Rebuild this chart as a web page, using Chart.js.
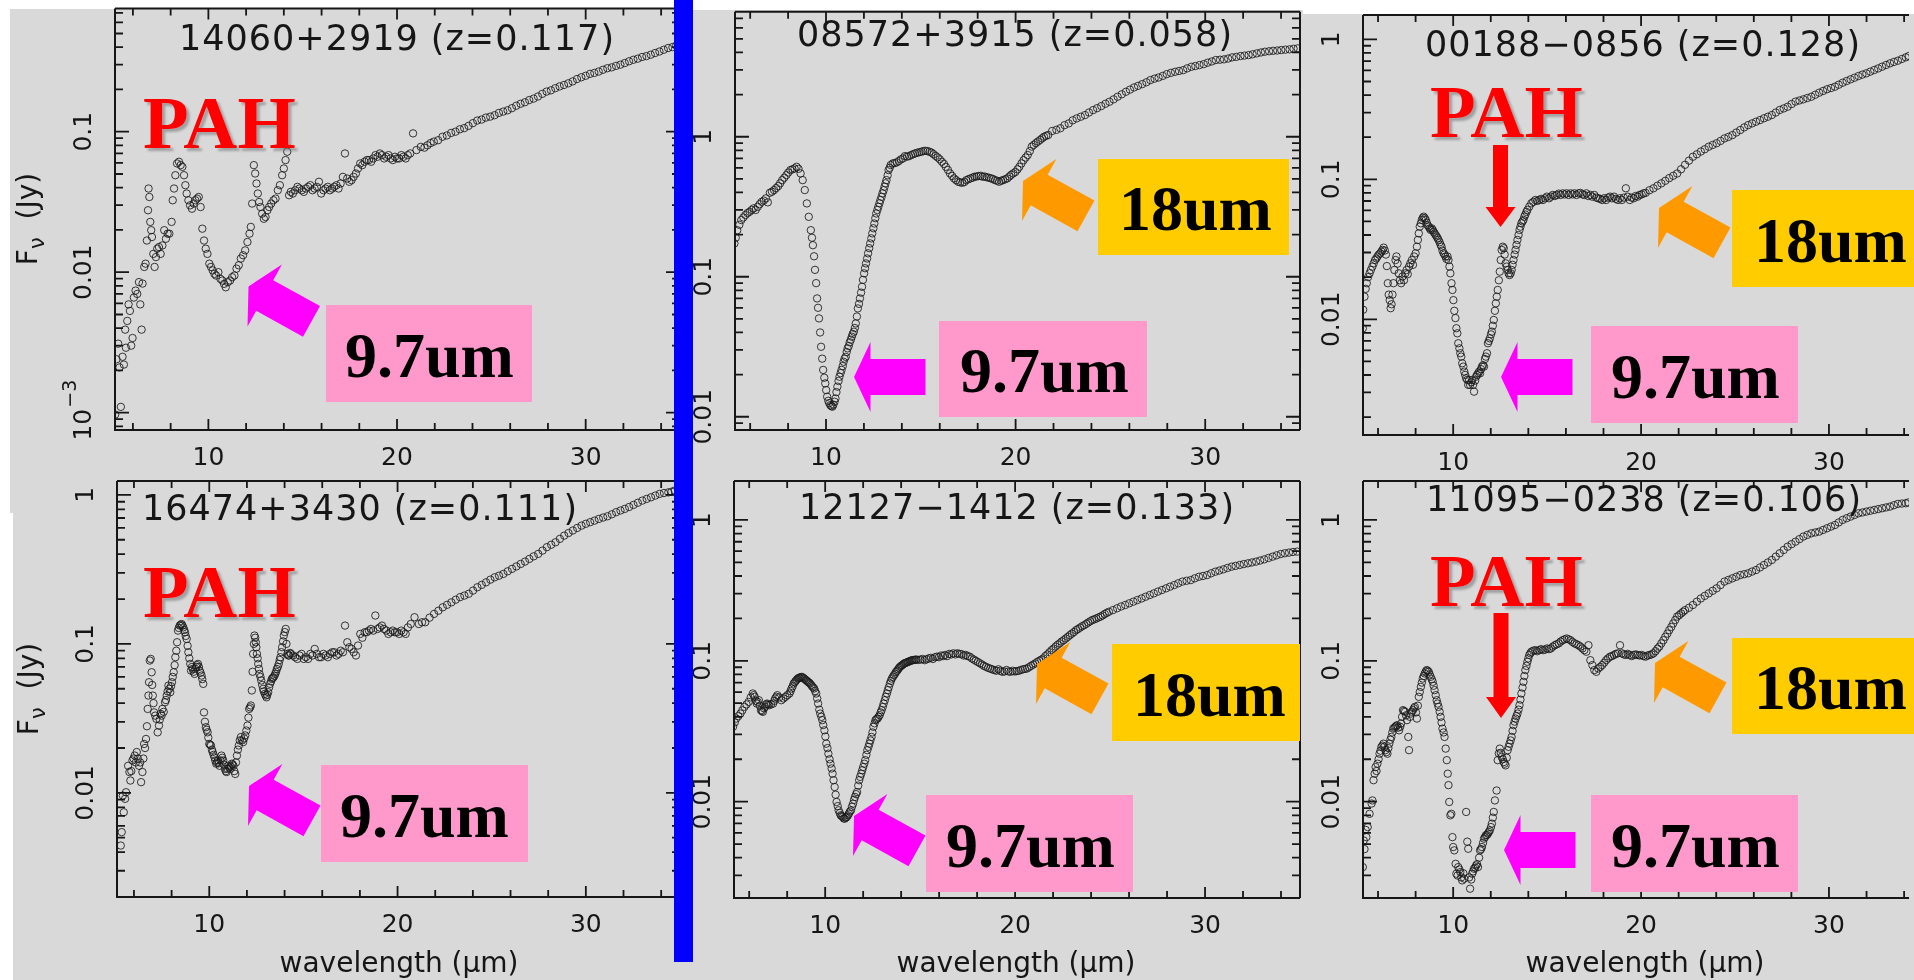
<!DOCTYPE html>
<html>
<head>
<meta charset="utf-8">
<title>IRS spectra of ULIRGs</title>
<script src="https://cdn.jsdelivr.net/npm/chart.js@4.4.1/dist/chart.umd.min.js"></script>
<style>
  html, body { margin: 0; padding: 0; background: #fff; }
  #page { position: relative; width: 1914px; height: 980px; overflow: hidden; background: #fff; }
  .bg { position: absolute; background: #d9d9d9; }
  canvas { position: absolute; left: 0; top: 0; }
  #blueBar { position: absolute; left: 674px; top: 0; width: 19px; height: 962px; background: #0000ff; }
  #notes { position: absolute; left: 0; top: 0; }
</style>
</head>
<body>
<div id="page">
  <div class="bg" style="left:10px; top:9px; width:665px; height:504px"></div>
  <div class="bg" style="left:13px; top:513px; width:662px; height:467px"></div>
  <div class="bg" style="left:675px; top:10px; width:628px; height:970px"></div>
  <div class="bg" style="left:1303px; top:14px; width:611px; height:966px"></div>
  <canvas id="p1" width="1914" height="980"></canvas>
  <canvas id="p2" width="1914" height="980"></canvas>
  <canvas id="p3" width="1914" height="980"></canvas>
  <canvas id="p4" width="1914" height="980"></canvas>
  <canvas id="p5" width="1914" height="980"></canvas>
  <canvas id="p6" width="1914" height="980"></canvas>
  <div id="blueBar"></div>
  <svg id="notes" width="1914" height="980" xmlns="http://www.w3.org/2000/svg">
    <defs>
      <filter id="shadow" x="-10%" y="-10%" width="130%" height="150%">
        <feDropShadow dx="3" dy="3" stdDeviation="0.8" flood-color="#707070" flood-opacity="0.55"/>
      </filter>
    </defs>
  </svg>
</div>
<script>
// tick values (wavelength in um, flux in Jy)
const xTickLabels = [10, 20, 30];
const xMinorTicks = [6, 8, 10, 12, 14, 16, 18, 20, 22, 24, 26, 28, 30, 32, 34];
const yTicksP1 = [0.1, 0.01, 0.001];
const yTicksOther = [1, 0.1, 0.01];

// spectra: [wavelength (um), F_nu (Jy)]
const p1Points = [
  [5.06,.00097],[5.13,.0024],[5.22,.0031],[5.29,.0021],[5.36,.0011],[5.45,.0025],[5.52,.0022],[5.59,.0039],[5.63,.0029],[5.70,.0045],
  [5.77,.0059],[5.84,.0053],[5.91,.0030],[5.98,.0034],[6.05,.0066],[6.14,.0074],[6.23,.0070],[6.32,.0085],[6.39,.0059],[6.46,.0039],
  [6.51,.0083],[6.60,.0109],[6.67,.0115],[6.74,.0168],[6.80,.0276],[6.83,.0394],[6.87,.0343],[6.92,.0228],[6.97,.0199],[7.01,.0178],
  [7.08,.0135],[7.15,.0109],[7.22,.0128],[7.29,.0147],[7.38,.0151],[7.47,.0135],[7.56,.0155],[7.66,.0199],[7.75,.0173],[7.84,.0188],
  [7.93,.0188],[8.05,.0228],[8.11,.0325],[8.18,.0394],[8.25,.0490],[8.34,.0594],[8.44,.0611],[8.53,.0578],[8.62,.0562],[8.71,.0490],
  [8.78,.0416],[8.85,.0363],[8.94,.0325],[9.03,.0299],[9.13,.0283],[9.22,.0308],[9.31,.0325],[9.40,.0334],[9.49,.0343],[9.59,.0291],
  [9.68,.0204],[9.77,.0168],[9.86,.0147],[9.95,.0135],[10.05,.0115],[10.14,.0109],[10.23,.0103],[10.32,.00973],[10.41,.00947],[10.53,.0100],
  [10.64,.00896],[10.74,.00872],[10.83,.00826],[10.92,.00781],[11.03,.00849],[11.15,.00872],[11.26,.00921],[11.38,.00947],[11.49,.0106],[11.61,.0112],
  [11.72,.0125],[11.84,.0132],[11.95,.0143],[12.07,.0164],[12.18,.0188],[12.25,.0210],[12.32,.0308],[12.41,.0578],[12.48,.0504],[12.55,.0428],
  [12.62,.0363],[12.69,.0316],[12.76,.0291],[12.85,.0261],[12.94,.0240],[13.03,.0247],[13.13,.0276],[13.22,.0291],[13.33,.0308],[13.45,.0325],
  [13.56,.0334],[13.68,.0383],[13.79,.0416],[13.91,.0490],[14.00,.0547],[14.09,.0628],[14.18,.0720],[14.28,.0353],[14.37,.0373],[14.48,.0363],
  [14.60,.0383],[14.72,.0405],[14.83,.0394],[14.95,.0383],[15.06,.0373],[15.17,.0394],[15.29,.0405],[15.40,.0416],[15.52,.0383],[15.63,.0394],
  [15.75,.0405],[15.86,.0440],[15.98,.0363],[16.10,.0383],[16.21,.0394],[16.33,.0405],[16.44,.0383],[16.56,.0394],[16.67,.0405],[16.79,.0416],
  [16.90,.0394],[17.01,.0428],[17.13,.0477],[17.24,.0700],[17.36,.0464],[17.47,.0440],[17.59,.0452],[17.70,.0477],[17.82,.0504],[17.93,.0547],
  [18.05,.0594],[18.16,.0578],[18.28,.0611],[18.40,.0628],[18.51,.0628],[18.63,.0611],[18.74,.0645],[18.86,.0681],[18.97,.0663],[19.09,.0700],
  [19.20,.0681],[19.32,.0645],[19.43,.0663],[19.55,.0681],[19.66,.0645],[19.78,.0628],[19.89,.0663],[20.00,.0645],[20.11,.0645],[20.23,.0681],
  [20.34,.0663],[20.46,.0645],[20.57,.0681],[20.70,.0700],[20.85,.0973],[21.03,.074],[21.26,.078],[21.45,.077],[21.61,.080],[21.78,.083],
  [21.95,.085],[22.18,.087],[22.41,.092],[22.64,.094],[22.87,.098],[23.10,.100],[23.33,.104],[23.56,.106],[23.79,.110],[24.02,.115],
  [24.25,.120],[24.48,.122],[24.71,.126],[24.94,.128],[25.17,.131],[25.40,.136],[25.63,.139],[25.86,.142],[26.09,.147],[26.32,.153],
  [26.55,.158],[26.78,.162],[27.01,.168],[27.24,.172],[27.47,.178],[27.70,.186],[27.93,.193],[28.16,.197],[28.39,.204],[28.62,.210],
  [28.85,.215],[29.08,.221],[29.31,.228],[29.54,.237],[29.77,.244],[30.00,.250],[30.23,.258],[30.46,.262],[30.69,.268],[30.92,.276],
  [31.15,.283],[31.38,.287],[31.61,.294],[31.84,.300],[32.07,.308],[32.30,.317],[32.53,.325],[32.76,.331],[32.99,.340],[33.22,.345],
  [33.45,.353],[33.68,.363],[33.91,.372],[34.14,.383],[34.37,.394],[34.60,.400],[34.80,.410]
];

const p2Points = [
  [5.17,.173],[5.24,.19],[5.32,.215],[5.43,.235],[5.53,.254],[5.64,.265],[5.75,.276],[5.86,.285],[5.97,.291],[6.08,.300],
  [6.18,.308],[6.29,.300],[6.40,.316],[6.50,.330],[6.61,.343],[6.72,.350],[6.83,.363],[6.93,.340],[7.04,.398],[7.15,.405],
  [7.26,.416],[7.37,.430],[7.48,.444],[7.58,.465],[7.69,.490],[7.80,.510],[7.91,.532],[8.01,.555],[8.12,.578],[8.23,.585],
  [8.34,.594],[8.45,.610],[8.55,.590],[8.66,.547],[8.77,.490],[8.88,.416],[8.99,.334],[9.09,.268],[9.20,.215],[9.26,.19],
  [9.31,.168],[9.37,.14],[9.42,.112],[9.48,.09],[9.53,.07],[9.58,.06],[9.63,.0504],[9.69,.04],[9.74,.0316],[9.80,.026],
  [9.85,.0216],[9.91,.019],[9.96,.0173],[10.01,.0155],[10.06,.0139],[10.12,.013],[10.17,.0125],[10.23,.0121],[10.28,.0119],[10.34,.0118],
  [10.39,.0122],[10.45,.0128],[10.50,.0135],[10.55,.015],[10.60,.0164],[10.66,.018],[10.71,.0193],[10.77,.0205],[10.82,.0216],[10.88,.023],
  [10.93,.0247],[10.98,.026],[11.04,.0268],[11.09,.029],[11.14,.0308],[11.20,.032],[11.25,.034],[11.31,.0355],[11.36,.0373],[11.41,.039],
  [11.47,.0405],[11.52,.043],[11.57,.0464],[11.63,.052],[11.68,.0594],[11.74,.064],[11.79,.070],[11.85,.077],[11.90,.0848],[11.95,.095],
  [12.01,.1057],[12.06,.115],[12.11,.1245],[12.17,.135],[12.22,.147],[12.28,.16],[12.33,.173],[12.39,.188],[12.44,.204],[12.50,.222],
  [12.55,.240],[12.60,.262],[12.65,.283],[12.71,.30],[12.76,.316],[12.82,.335],[12.87,.353],[12.93,.372],[12.98,.394],[13.04,.415],
  [13.09,.44],[13.14,.465],[13.19,.49],[13.25,.53],[13.30,.578],[13.36,.60],[13.41,.628],[13.52,.645],[13.62,.648],[13.73,.656],
  [13.84,.67],[13.95,.689],[14.06,.70],[14.16,.727],[14.27,.72],[14.38,.727],[14.49,.74],[14.60,.751],[14.70,.76],[14.81,.769],
  [14.92,.775],[15.03,.781],[15.13,.79],[15.24,.794],[15.35,.79],[15.46,.781],[15.57,.77],[15.67,.751],[15.78,.73],[15.89,.712],
  [16.00,.69],[16.11,.663],[16.22,.64],[16.32,.61],[16.43,.58],[16.54,.547],[16.65,.525],[16.75,.504],[16.86,.49],[16.97,.477],
  [17.08,.472],[17.19,.469],[17.30,.475],[17.40,.49],[17.51,.497],[17.62,.504],[17.73,.51],[17.83,.518],[17.94,.52],[18.05,.524],
  [18.16,.526],[18.26,.518],[18.37,.52],[18.48,.513],[18.59,.51],[18.70,.504],[18.80,.50],[18.91,.49],[19.02,.485],[19.13,.477],
  [19.24,.485],[19.34,.49],[19.45,.497],[19.56,.504],[19.67,.52],[19.77,.535],[19.88,.548],[19.99,.56],[20.10,.585],[20.20,.61],
  [20.31,.645],[20.42,.68],[20.53,.71],[20.64,.74],[20.75,.79],[20.85,.85],[20.96,.875],[21.07,.90],[21.18,.925],[21.30,.95],
  [21.40,.975],[21.50,1.0],[21.61,1.015],[21.72,1.03],[21.93,1.10],[22.15,1.12],[22.36,1.15],[22.58,1.21],[22.80,1.245],[23.01,1.31],
  [23.22,1.352],[23.44,1.39],[23.66,1.428],[23.87,1.49],[24.09,1.55],[24.30,1.60],[24.52,1.656],[24.74,1.72],[24.95,1.778],[25.17,1.85],
  [25.38,1.931],[25.60,2.01],[25.82,2.096],[26.03,2.17],[26.25,2.25],[26.46,2.31],[26.68,2.377],[26.90,2.45],[27.11,2.54],[27.33,2.60],
  [27.54,2.65],[27.76,2.72],[27.97,2.80],[28.19,2.86],[28.41,2.91],[28.62,2.95],[28.84,2.99],[29.05,3.08],[29.27,3.16],[29.48,3.20],
  [29.70,3.25],[29.92,3.30],[30.13,3.38],[30.35,3.45],[30.56,3.53],[30.78,3.55],[30.99,3.57],[31.21,3.62],[31.42,3.69],[31.64,3.72],
  [31.86,3.77],[32.07,3.80],[32.29,3.83],[32.50,3.88],[32.72,3.94],[32.94,4.00],[33.15,4.05],[33.37,4.08],[33.58,4.11],[33.80,4.13],
  [34.01,4.16],[34.23,4.19],[34.45,4.21],[34.66,4.25],[34.88,4.28]
];

const p3Points = [
  [5.19,.0086],[5.21,.0117],[5.28,.0145],[5.34,.0165],[5.40,.0181],[5.47,.0200],[5.55,.0213],[5.62,.0225],[5.70,.0238],[5.77,.0251],
  [5.84,.0265],[5.91,.0272],[5.97,.0281],[6.04,.0290],[6.12,.0296],[6.18,.0305],[6.24,.0313],[6.30,.0325],[6.36,.0310],[6.42,.0290],
  [6.47,.0240],[6.52,.0181],[6.57,.0150],[6.62,.0137],[6.67,.0120],[6.72,.0128],[6.77,.0150],[6.82,.0181],[6.87,.0225],[6.93,.0265],
  [6.98,.0281],[7.04,.0250],[7.10,.0213],[7.16,.0190],[7.23,.0181],[7.30,.0202],[7.38,.0190],[7.45,.0213],[7.52,.0225],[7.58,.0210],
  [7.65,.0238],[7.72,.0251],[7.80,.0265],[7.86,.0245],[7.92,.0281],[8.00,.0296],[8.07,.0330],[8.12,.0369],[8.17,.0411],[8.22,.0459],
  [8.28,.0485],[8.33,.0513],[8.38,.0530],[8.43,.0541],[8.49,.0527],[8.54,.0513],[8.59,.0490],[8.64,.0470],[8.70,.0459],[8.75,.0446],
  [8.80,.0435],[8.86,.0446],[8.91,.0435],[8.96,.0422],[9.01,.0411],[9.07,.0400],[9.12,.0390],[9.17,.0380],[9.22,.0369],[9.28,.0355],
  [9.33,.0340],[9.38,.0330],[9.43,.0310],[9.49,.0296],[9.54,.0290],[9.59,.0281],[9.64,.0270],[9.70,.0281],[9.75,.0265],[9.80,.0238],
  [9.85,.0213],[9.91,.0181],[9.96,.0162],[10.01,.0137],[10.06,.0115],[10.12,.0102],[10.17,.00863],[10.22,.00794],[10.27,.00674],[10.33,.00620],
  [10.38,.00572],[10.43,.00541],[10.48,.00485],[10.54,.00459],[10.59,.00423],[10.64,.00400],[10.69,.00379],[10.75,.00369],[10.80,.00340],[10.85,.00369],
  [10.90,.00340],[10.96,.00355],[11.01,.00369],[11.06,.00340],[11.11,.00304],[11.17,.00365],[11.22,.00389],[11.27,.00400],[11.33,.00411],[11.38,.00423],
  [11.43,.00411],[11.48,.00440],[11.53,.00459],[11.59,.00470],[11.64,.00459],[11.69,.00520],[11.74,.00541],[11.80,.00572],[11.85,.00674],[11.90,.00700],
  [11.95,.00731],[12.01,.00780],[12.06,.00816],[12.11,.00900],[12.16,.00989],[12.22,.0115],[12.27,.0130],[12.32,.0145],[12.37,.0162],[12.43,.0190],
  [12.48,.0219],[12.53,.0265],[12.58,.0313],[12.64,.0330],[12.69,.0322],[12.74,.0290],[12.79,.0251],[12.85,.0238],[12.90,.0225],[12.95,.0213],
  [13.00,.0207],[13.06,.0213],[13.11,.0225],[13.16,.0245],[13.21,.0265],[13.27,.0290],[13.32,.0313],[13.37,.0340],[13.42,.0369],[13.48,.0400],
  [13.53,.0435],[13.58,.0459],[13.63,.0485],[13.69,.0500],[13.74,.0513],[13.79,.0541],[13.84,.0560],[13.90,.0585],[13.95,.0604],[14.05,.0638],
  [14.16,.0674],[14.26,.0690],[14.37,.0712],[14.47,.0700],[14.58,.0712],[14.68,.0725],[14.78,.0712],[14.89,.0732],[14.99,.0752],[15.10,.0732],
  [15.20,.0752],[15.30,.0773],[15.41,.0760],[15.51,.0773],[15.62,.0790],[15.72,.0773],[15.83,.0794],[15.93,.0780],[16.04,.0794],[16.14,.0773],
  [16.25,.0794],[16.35,.0780],[16.46,.0794],[16.56,.0773],[16.67,.0794],[16.77,.0800],[16.88,.0780],[16.98,.0773],[17.09,.0794],[17.19,.0760],
  [17.30,.0773],[17.40,.0752],[17.51,.0773],[17.61,.0740],[17.72,.0732],[17.82,.0725],[17.93,.0712],[18.03,.0732],[18.14,.0712],[18.24,.0740],
  [18.35,.0752],[18.45,.0732],[18.56,.0752],[18.66,.0725],[18.77,.0712],[18.87,.0732],[18.98,.0712],[19.08,.0740],[19.19,.0863],[19.29,.0752],
  [19.40,.0712],[19.50,.0740],[19.61,.0732],[19.71,.0760],[19.82,.0752],[19.92,.0773],[20.03,.0780],[20.13,.0794],[20.24,.0800],[20.45,.0836],
  [20.66,.0863],[20.87,.0900],[21.08,.0936],[21.29,.0976],[21.50,.102],[21.71,.106],[21.92,.110],[22.13,.118],[22.34,.127],[22.55,.136],
  [22.76,.145],[22.97,.151],[23.18,.158],[23.39,.164],[23.60,.171],[23.81,.176],[24.02,.181],[24.23,.188],[24.44,.196],[24.65,.201],
  [24.86,.207],[25.07,.216],[25.28,.225],[25.49,.235],[25.70,.244],[25.91,.251],[26.12,.258],[26.33,.265],[26.54,.273],[26.75,.280],
  [26.96,.288],[27.17,.300],[27.38,.313],[27.59,.321],[27.80,.330],[28.01,.345],[28.22,.359],[28.43,.366],[28.64,.373],[28.85,.381],
  [29.06,.389],[29.27,.402],[29.48,.416],[29.69,.428],[29.90,.440],[30.11,.449],[30.32,.459],[30.52,.474],[30.73,.490],[30.94,.504],
  [31.15,.518],[31.36,.532],[31.57,.547],[31.78,.560],[31.99,.572],[32.20,.588],[32.41,.604],[32.62,.620],[32.83,.638],[33.04,.656],
  [33.25,.674],[33.46,.690],[33.67,.704],[33.88,.724],[34.09,.744],[34.25,.760]
];

const p4Points = [
  [5.30,.00443],[5.35,.00545],[5.41,.00959],[5.46,.00741],[5.53,.00912],[5.58,.0101],[5.69,.0152],[5.76,.0138],[5.81,.0121],[5.86,.0140],
  [5.92,.0165],[5.98,.0170],[6.04,.0178],[6.10,.0160],[6.15,.0188],[6.21,.0170],[6.27,.0152],[6.33,.0160],[6.38,.0118],[6.45,.0138],
  [6.50,.0170],[6.54,.0213],[6.59,.0200],[6.64,.0230],[6.69,.0280],[6.73,.0366],[6.77,.0450],[6.80,.0553],[6.84,.0773],[6.89,.0793],
  [6.94,.0645],[6.97,.0530],[7.00,.0450],[7.04,.0400],[7.07,.0347],[7.13,.0330],[7.19,.0314],[7.26,.0255],[7.33,.0283],[7.37,.0310],
  [7.42,.0339],[7.47,.0330],[7.51,.0366],[7.58,.0350],[7.65,.0406],[7.70,.0420],[7.74,.0450],[7.79,.0480],[7.83,.0525],[7.88,.0500],
  [7.93,.0474],[7.97,.0520],[8.02,.0553],[8.06,.0600],[8.11,.0645],[8.16,.0720],[8.20,.0814],[8.25,.0900],[8.29,.1026],[8.34,.1228],
  [8.38,.1280],[8.43,.1327],[8.48,.1340],[8.53,.136],[8.57,.133],[8.62,.129],[8.67,.124],[8.71,.1197],[8.75,.113],[8.80,.108],
  [8.85,.097],[8.89,.0879],[8.94,.080],[8.99,.0734],[9.03,.0662],[9.08,.0700],[9.12,.0679],[9.17,.0650],[9.22,.0629],[9.26,.0680],
  [9.31,.0700],[9.35,.0720],[9.40,.0734],[9.45,.0700],[9.49,.0662],[9.54,.0640],[9.59,.0613],[9.63,.0580],[9.68,.0539],[9.72,.0347],
  [9.77,.0300],[9.82,.0276],[9.86,.0265],[9.91,.0255],[9.95,.0235],[10.00,.0213],[10.05,.0210],[10.09,.0208],[10.14,.0195],[10.18,.0188],
  [10.23,.0180],[10.28,.0173],[10.32,.0165],[10.37,.0157],[10.41,.0160],[10.46,.0165],[10.51,.0158],[10.55,.0152],[10.60,.0165],[10.65,.0178],
  [10.69,.0172],[10.74,.0165],[10.78,.0155],[10.83,.0145],[10.88,.0140],[10.92,.0138],[10.97,.0145],[11.01,.0152],[11.06,.0148],[11.11,.0145],
  [11.15,.0150],[11.20,.0157],[11.24,.0155],[11.29,.0152],[11.33,.0140],[11.38,.0134],[11.42,.0160],[11.47,.0178],[11.52,.0195],[11.57,.0208],
  [11.62,.0225],[11.68,.0237],[11.74,.0225],[11.80,.0219],[11.85,.0232],[11.91,.0243],[11.97,.0262],[12.03,.0283],[12.08,.0320],[12.12,.0366],
  [12.17,.0375],[12.21,.0386],[12.26,.0487],[12.30,.0650],[12.33,.0857],[12.37,.100],[12.40,.1138],[12.44,.110],[12.47,.1026],[12.50,.095],
  [12.53,.0857],[12.57,.080],[12.60,.0734],[12.64,.068],[12.67,.0629],[12.72,.060],[12.76,.0568],[12.81,.053],[12.86,.0499],[12.90,.048],
  [12.95,.0462],[13.00,.045],[13.04,.0438],[13.08,.0455],[13.13,.0474],[13.18,.051],[13.23,.0539],[13.28,.056],[13.32,.0582],[13.37,.059],
  [13.41,.0597],[13.46,.061],[13.50,.0629],[13.55,.065],[13.59,.0679],[13.64,.070],[13.69,.0734],[13.74,.078],[13.78,.0814],[13.83,.088],
  [13.87,.0950],[13.92,.104],[13.96,.1138],[14.01,.120],[14.06,.126],[14.10,.100],[14.15,.0857],[14.20,.0836],[14.24,.0836],[14.29,.0870],
  [14.33,.0857],[14.45,.0836],[14.56,.0814],[14.68,.0793],[14.79,.0836],[14.90,.0857],[15.02,.0793],[15.13,.0814],[15.25,.0793],[15.37,.0857],
  [15.48,.0836],[15.60,.0925],[15.71,.0857],[15.83,.0814],[15.94,.0814],[16.06,.0857],[16.18,.0836],[16.30,.0814],[16.41,.0857],[16.53,.0879],
  [16.64,.0879],[16.76,.0836],[16.87,.0857],[16.98,.0900],[17.10,.0879],[17.21,.1327],[17.33,.1026],[17.44,.0950],[17.56,.0925],[17.67,.0879],
  [17.79,.0836],[17.90,.0975],[18.02,.1167],[18.13,.110],[18.25,.1197],[18.36,.1197],[18.48,.1228],[18.59,.126],[18.71,.1228],[18.82,.155],
  [18.94,.126],[19.05,.129],[19.17,.1327],[19.28,.126],[19.40,.1228],[19.51,.1167],[19.63,.1197],[19.74,.1228],[19.86,.1197],[19.97,.1197],
  [20.09,.1167],[20.20,.1228],[20.32,.1197],[20.43,.1167],[20.55,.129],[20.70,.136],[20.90,.151],[21.13,.136],[21.30,.1397],[21.47,.1397],
  [21.70,.150],[21.94,.159],[22.17,.167],[22.40,.176],[22.63,.183],[22.86,.190],[23.09,.198],[23.32,.206],[23.55,.211],[23.78,.217],
  [24.01,.228],[24.24,.240],[24.47,.249],[24.70,.259],[24.93,.270],[25.16,.280],[25.39,.287],[25.62,.295],[25.85,.307],[26.08,.319],
  [26.31,.331],[26.54,.344],[26.77,.357],[27.00,.372],[27.23,.387],[27.47,.402],[27.70,.423],[27.93,.446],[28.16,.463],[28.39,.481],
  [28.62,.507],[28.85,.533],[29.08,.555],[29.31,.577],[29.54,.600],[29.77,.622],[30.00,.640],[30.23,.656],[30.46,.672],[30.69,.690],
  [30.92,.705],[31.15,.719],[31.38,.741],[31.61,.766],[31.84,.786],[32.07,.806],[32.30,.830],[32.53,.857],[32.76,.886],[33.00,.916],
  [33.23,.940],[33.46,.964],[33.69,.990],[33.92,1.016],[34.15,1.03],[34.38,1.04],[34.55,1.05],[34.72,1.07]
];

const p5Points = [
  [5.15,.0340],[5.24,.0365],[5.32,.0389],[5.43,.0405],[5.54,.0422],[5.64,.0445],[5.75,.0471],[5.86,.0490],[5.97,.0511],[6.08,.0550],
  [6.19,.0586],[6.24,.0570],[6.29,.0555],[6.35,.0520],[6.40,.0497],[6.45,.0510],[6.51,.0525],[6.56,.0480],[6.62,.0446],[6.67,.0440],
  [6.72,.0434],[6.78,.0460],[6.83,.0471],[6.89,.0490],[6.94,.0497],[7.00,.0490],[7.05,.0484],[7.15,.0490],[7.26,.0497],[7.32,.0520],
  [7.37,.0540],[7.43,.0555],[7.48,.0570],[7.58,.0550],[7.69,.0525],[7.80,.0540],[7.91,.0555],[8.01,.0570],[8.12,.0586],[8.18,.0610],
  [8.23,.0636],[8.29,.0660],[8.34,.0690],[8.40,.0705],[8.45,.0720],[8.51,.0735],[8.56,.0748],[8.61,.0755],[8.66,.0760],[8.72,.0765],
  [8.77,.0769],[8.83,.0760],[8.88,.0750],[8.93,.0740],[8.99,.0729],[9.04,.0720],[9.09,.0710],[9.15,.0700],[9.20,.0690],[9.26,.0675],
  [9.31,.0660],[9.36,.0648],[9.42,.0636],[9.47,.0610],[9.53,.0586],[9.58,.0540],[9.63,.0497],[9.69,.0450],[9.74,.0422],[9.80,.0400],
  [9.85,.0379],[9.90,.0350],[9.96,.0321],[10.01,.0290],[10.06,.0258],[10.12,.0240],[10.17,.0219],[10.23,.0200],[10.28,.0186],[10.34,.0172],
  [10.39,.0158],[10.44,.0142],[10.50,.0127],[10.55,.0112],[10.60,.00995],[10.66,.00930],[10.71,.00868],[10.77,.00830],[10.82,.00800],[10.87,.00790],
  [10.93,.00778],[10.98,.00760],[11.03,.00757],[11.09,.00770],[11.14,.00778],[11.20,.00800],[11.25,.00822],[11.30,.00850],[11.36,.00868],[11.41,.00920],
  [11.47,.00968],[11.52,.0103],[11.57,.0108],[11.63,.0113],[11.68,.0117],[11.74,.0130],[11.79,.0142],[11.84,.0150],[11.90,.0158],[11.95,.0167],
  [12.00,.0176],[12.06,.0186],[12.11,.0197],[12.17,.0215],[12.22,.0232],[12.28,.0245],[12.33,.0258],[12.38,.0272],[12.44,.0288],[12.49,.0310],
  [12.54,.0340],[12.60,.0360],[12.65,.0379],[12.70,.0385],[12.76,.0389],[12.81,.0400],[12.87,.0411],[12.92,.0430],[12.97,.0446],[13.03,.0470],
  [13.08,.0497],[13.14,.0525],[13.19,.0555],[13.25,.0586],[13.30,.0619],[13.35,.0650],[13.41,.0690],[13.46,.0720],[13.51,.0748],[13.57,.0770],
  [13.62,.0790],[13.68,.0810],[13.73,.0835],[13.79,.0850],[13.84,.0870],[13.89,.0890],[13.94,.0906],[14.00,.0920],[14.05,.0930],[14.11,.0945],
  [14.16,.0957],[14.22,.0965],[14.27,.0970],[14.33,.0978],[14.38,.0984],[14.44,.0992],[14.49,.100],[14.54,.1005],[14.59,.101],[14.65,.1012],
  [14.70,.1015],[14.76,.1018],[14.81,.102],[14.92,.1015],[15.02,.102],[15.13,.103],[15.24,.101],[15.35,.1025],[15.45,.104],[15.56,.105],
  [15.67,.103],[15.78,.106],[15.88,.107],[15.99,.106],[16.10,.109],[16.21,.108],[16.31,.110],[16.42,.108],[16.53,.112],[16.64,.111],
  [16.75,.113],[16.86,.111],[16.96,.113],[17.07,.112],[17.18,.1115],[17.29,.109],[17.40,.110],[17.50,.108],[17.61,.107],[17.72,.104],
  [17.83,.102],[17.93,.100],[18.04,.098],[18.15,.096],[18.26,.094],[18.36,.092],[18.47,.0906],[18.58,.089],[18.69,.088],[18.79,.087],
  [18.90,.0859],[19.01,.085],[19.12,.087],[19.22,.085],[19.33,.0835],[19.44,.084],[19.55,.086],[19.65,.084],[19.76,.0835],[19.87,.085],
  [19.98,.084],[20.08,.0845],[20.19,.0849],[20.30,.086],[20.41,.087],[20.52,.0875],[20.63,.0882],[20.73,.090],[20.84,.092],[20.95,.094],
  [21.06,.0957],[21.16,.098],[21.27,.100],[21.38,.102],[21.49,.104],[21.59,.108],[21.70,.111],[21.81,.115],[21.92,.119],[22.02,.122],
  [22.13,.126],[22.24,.130],[22.35,.133],[22.45,.137],[22.56,.140],[22.67,.144],[22.78,.148],[22.88,.152],[22.99,.156],[23.10,.160],
  [23.21,.165],[23.31,.168],[23.42,.172],[23.53,.176],[23.64,.179],[23.75,.183],[23.85,.187],[23.96,.191],[24.07,.195],[24.18,.197],
  [24.28,.200],[24.39,.203],[24.50,.206],[24.61,.210],[24.72,.215],[24.83,.219],[24.94,.223],[25.15,.229],[25.37,.236],[25.58,.243],
  [25.80,.249],[26.01,.256],[26.23,.263],[26.44,.270],[26.66,.277],[26.87,.285],[27.09,.293],[27.30,.301],[27.52,.310],[27.73,.318],
  [27.95,.327],[28.16,.336],[28.38,.345],[28.59,.355],[28.81,.365],[29.03,.370],[29.25,.374],[29.46,.385],[29.68,.395],[29.89,.400],
  [30.11,.406],[30.32,.418],[30.54,.429],[30.75,.437],[30.97,.446],[31.18,.456],[31.40,.466],[31.61,.472],[31.83,.479],[32.04,.486],
  [32.26,.492],[32.47,.499],[32.69,.506],[32.90,.515],[33.12,.525],[33.34,.537],[33.56,.549],[33.77,.561],[33.99,.573],[34.20,.580],
  [34.42,.586],[34.63,.592],[34.85,.596]
];

const p6Points = [
  [5.19,.00343],[5.24,.0053],[5.28,.0046],[5.34,.0063],[5.38,.0056],[5.45,.0066],[5.55,.0082],[5.66,.0097],[5.70,.0102],[5.76,.0142],
  [5.82,.0158],[5.87,.0176],[5.92,.0165],[5.97,.0186],[6.03,.0200],[6.08,.0219],[6.13,.0230],[6.18,.0245],[6.24,.0250],[6.29,.0258],
  [6.34,.0245],[6.39,.0232],[6.45,.0225],[6.50,.0219],[6.55,.0240],[6.60,.0258],[6.66,.0275],[6.71,.0288],[6.76,.0310],[6.81,.033],
  [6.87,.0335],[6.92,.034],[6.97,.0345],[7.02,.0349],[7.07,.0335],[7.12,.0321],[7.18,.0340],[7.23,.0359],[7.28,.0400],[7.33,.0446],
  [7.38,.0440],[7.44,.0434],[7.49,.0410],[7.54,.0379],[7.61,.0288],[7.65,.0232],[7.70,.0400],[7.75,.0422],[7.80,.0435],[7.86,.0446],
  [7.91,.0460],[7.96,.0471],[8.02,.0430],[8.07,.0389],[8.12,.0480],[8.17,.0555],[8.22,.0600],[8.28,.0653],[8.33,.0700],[8.38,.0748],
  [8.43,.0780],[8.49,.0813],[8.54,.0840],[8.59,.0859],[8.64,.0850],[8.70,.0835],[8.75,.0800],[8.80,.0769],[8.86,.0740],[8.91,.0709],
  [8.96,.0665],[9.01,.0619],[9.07,.0570],[9.12,.0525],[9.17,.0497],[9.22,.0471],[9.28,.0435],[9.33,.0400],[9.38,.0365],[9.43,.033],
  [9.49,.0310],[9.54,.0288],[9.60,.0238],[9.66,.0197],[9.71,.0158],[9.75,.0131],[9.79,.00995],[9.85,.0080],[9.90,.0082],[9.96,.0056],
  [10.00,.00476],[10.06,.00451],[10.13,.00362],[10.17,.00308],[10.23,.00299],[10.27,.00343],[10.33,.0033],[10.38,.00316],[10.43,.0029],[10.48,.00276],
  [10.54,.0031],[10.59,.00284],[10.69,.00845],[10.75,.0052],[10.80,.00463],[10.85,.0029],[10.90,.00241],[10.96,.0028],[11.01,.00308],[11.06,.0032],
  [11.11,.00334],[11.17,.0034],[11.22,.00352],[11.27,.0036],[11.32,.00343],[11.38,.0040],[11.43,.00451],[11.48,.0046],[11.53,.00476],[11.59,.0051],
  [11.64,.00546],[11.69,.0056],[11.74,.00577],[11.80,.0058],[11.85,.00593],[11.90,.0061],[11.95,.00625],[12.01,.0066],[12.06,.00698],[12.11,.0077],
  [12.16,.00845],[12.22,.0102],[12.31,.0120],[12.37,.0197],[12.43,.0220],[12.48,.0238],[12.53,.0222],[12.58,.0208],[12.64,.0200],[12.69,.0191],
  [12.74,.0186],[12.79,.0181],[12.85,.0205],[12.90,.0232],[12.95,.0245],[13.00,.0258],[13.06,.0272],[13.11,.0288],[13.16,.0318],[13.21,.0349],
  [13.27,.0370],[13.32,.0389],[13.37,.0405],[13.42,.0422],[13.48,.0450],[13.53,.0484],[13.58,.0530],[13.63,.0586],[13.69,.0645],[13.74,.0709],
  [13.79,.0780],[13.84,.0859],[13.90,.0920],[13.95,.0984],[14.00,.104],[14.05,.110],[14.11,.113],[14.16,.116],[14.26,.118],[14.37,.119],
  [14.47,.117],[14.58,.119],[14.68,.121],[14.78,.119],[14.89,.120],[14.99,.1224],[15.10,.121],[15.20,.1224],[15.30,.126],[15.41,.129],
  [15.51,.131],[15.62,.133],[15.72,.137],[15.83,.140],[15.93,.142],[16.04,.144],[16.14,.142],[16.25,.140],[16.35,.136],[16.46,.133],
  [16.56,.131],[16.67,.129],[16.77,.126],[16.88,.1224],[16.98,.119],[17.09,.116],[17.20,.129],[17.30,.101],[17.41,.0932],[17.51,.0859],
  [17.62,.0835],[17.72,.0882],[17.83,.0905],[17.93,.0932],[18.04,.097],[18.14,.101],[18.24,.104],[18.35,.107],[18.45,.108],[18.56,.110],
  [18.66,.112],[18.77,.113],[18.88,.129],[18.98,.113],[19.08,.111],[19.19,.110],[19.29,.112],[19.40,.110],[19.50,.108],[19.61,.110],
  [19.71,.111],[19.82,.110],[19.92,.109],[20.03,.110],[20.13,.108],[20.24,.107],[20.35,.109],[20.45,.110],[20.56,.111],[20.66,.113],
  [20.77,.117],[20.87,.122],[20.97,.126],[21.08,.133],[21.19,.140],[21.29,.148],[21.40,.156],[21.50,.165],[21.61,.174],[21.71,.184],
  [21.82,.195],[21.92,.206],[22.03,.211],[22.13,.217],[22.24,.223],[22.34,.229],[22.55,.238],[22.76,.249],[22.97,.263],[23.18,.277],
  [23.39,.289],[23.60,.301],[23.81,.314],[24.02,.327],[24.23,.345],[24.44,.365],[24.65,.375],[24.86,.385],[25.07,.395],[25.28,.406],
  [25.49,.412],[25.70,.418],[25.91,.430],[26.12,.441],[26.33,.460],[26.54,.479],[26.75,.499],[26.96,.520],[27.17,.549],[27.38,.580],
  [27.59,.612],[27.80,.646],[28.01,.673],[28.22,.701],[28.43,.731],[28.64,.762],[28.85,.783],[29.06,.804],[29.27,.815],[29.48,.826],
  [29.69,.849],[29.90,.873],[30.11,.897],[30.32,.921],[30.52,.960],[30.73,1.0],[30.94,1.028],[31.15,1.056],[31.36,1.085],[31.57,1.115],
  [31.78,1.130],[31.99,1.146],[32.20,1.162],[32.41,1.178],[32.62,1.194],[32.83,1.21],[33.04,1.227],[33.25,1.244],[33.46,1.272],[33.67,1.30],
  [33.88,1.307],[34.09,1.314],[34.22,1.33]
];

// panel layout on the page
const panelLayout = [
  { canvas: 'p1', points: p1Points, box: { left: 115, right: 680, top: 8.5, bottom: 430 }, x: [5.05, 35], y: [7.53e-4, 0.753],
    rightAxis: true, yTicks: yTicksP1, title: '14060+2919 (z=0.117)', titleAt: [397, 41], fnu: [30, 219] },
  { canvas: 'p2', points: p2Points, box: { left: 735, right: 1300, top: 11.7, bottom: 430 }, x: [5.2, 35], y: [8.04e-3, 7.82],
    rightAxis: true, yTicks: yTicksOther, title: '08572+3915 (z=0.058)', titleAt: [1015, 37] },
  { canvas: 'p3', points: p3Points, box: { left: 1363, right: 1914, top: 15, bottom: 435 }, x: [5.2, 34.26], y: [1.49e-3, 1.493],
    rightAxis: false, yTicks: yTicksOther, title: '00188\u22120856 (z=0.128)', titleAt: [1643, 47] },
  { canvas: 'p4', points: p4Points, box: { left: 117, right: 680, top: 481, bottom: 897 }, x: [5.1, 35], y: [2.0e-3, 1.24],
    rightAxis: true, yTicks: yTicksOther, title: '16474+3430 (z=0.111)', titleAt: [360, 511], fnu: [31, 689], xLabelAt: [399, 965] },
  { canvas: 'p5', points: p5Points, box: { left: 734, right: 1300, top: 481, bottom: 898 }, x: [5.2, 35], y: [2.07e-3, 1.89],
    rightAxis: true, yTicks: yTicksOther, title: '12127\u22121412 (z=0.133)', titleAt: [1017, 510], xLabelAt: [1016, 965] },
  { canvas: 'p6', points: p6Points, box: { left: 1363, right: 1914, top: 481, bottom: 898 }, x: [5.2, 34.26], y: [2.07e-3, 1.89],
    rightAxis: false, yTicks: yTicksOther, title: '11095\u22120238 (z=0.106)', titleAt: [1644, 502], xLabelAt: [1645, 965] }
];

const ink = '#161616';
const sans = '"DejaVu Sans", "Liberation Sans", sans-serif';

function rotatedText(ctx, txt, cx, cy, font) {
  ctx.save();
  ctx.translate(cx, cy);
  ctx.rotate(-Math.PI / 2);
  ctx.font = font;
  ctx.textAlign = 'center';
  ctx.textBaseline = 'middle';
  ctx.fillText(txt, 0, 0);
  ctx.restore();
}

// PGPLOT-like box: inward ticks on every side, rotated y labels
function makeFrame(p) {
  return {
    id: 'frame',
    afterDatasetsDraw(chart) {
      const ctx = chart.ctx, a = chart.chartArea;
      const xs = chart.scales.x, ys = chart.scales.y;
      ctx.save();
      ctx.strokeStyle = ink;
      ctx.fillStyle = ink;
      ctx.lineWidth = 2;
      ctx.beginPath();
      ctx.moveTo(a.left, a.top); ctx.lineTo(a.left, a.bottom); ctx.lineTo(a.right, a.bottom);
      ctx.moveTo(a.left, a.top); ctx.lineTo(a.right, a.top);
      if (p.rightAxis) { ctx.moveTo(a.right, a.top); ctx.lineTo(a.right, a.bottom); }
      ctx.stroke();

      ctx.lineWidth = 1.8;
      ctx.beginPath();
      xMinorTicks.forEach(v => {
        const px = xs.getPixelForValue(v);
        if (px <= a.left + 1 || px >= a.right - 1) return;
        const len = xTickLabels.includes(v) ? 11 : 7;
        ctx.moveTo(px, a.bottom); ctx.lineTo(px, a.bottom - len);
        ctx.moveTo(px, a.top); ctx.lineTo(px, a.top + len);
      });
      for (let e = -4; e <= 1; e++) {
        for (let k = 1; k <= 9; k++) {
          const v = k * Math.pow(10, e);
          if (v < ys.min || v > ys.max) continue;
          const py = ys.getPixelForValue(v);
          const len = k === 1 ? 14 : 8;
          ctx.moveTo(a.left, py); ctx.lineTo(a.left + len, py);
          if (p.rightAxis) { ctx.moveTo(a.right, py); ctx.lineTo(a.right - len, py); }
        }
      }
      ctx.stroke();

      // tick labels
      ctx.font = '25px ' + sans;
      ctx.textAlign = 'center';
      ctx.textBaseline = 'middle';
      xTickLabels.forEach(v => {
        ctx.fillText(String(v), xs.getPixelForValue(v), a.bottom + 28);
      });
      p.yTicks.forEach(v => {
        const py = ys.getPixelForValue(v);
        const cx = a.left - 31;
        if (v >= 0.01) {
          rotatedText(ctx, String(v), cx, py, '25px ' + sans);
        } else {
          ctx.save();
          ctx.translate(cx, py);
          ctx.rotate(-Math.PI / 2);
          ctx.textAlign = 'left';
          ctx.textBaseline = 'middle';
          ctx.font = '25px ' + sans;
          const w1 = ctx.measureText('10').width;
          ctx.font = '19px ' + sans;
          const w2 = ctx.measureText('\u22123').width;
          const x0 = -(w1 + w2) / 2 + 2;
          ctx.font = '25px ' + sans;
          ctx.fillText('10', x0, 0);
          ctx.font = '19px ' + sans;
          ctx.fillText('\u22123', x0 + w1 + 1, -13);
          ctx.restore();
        }
      });

      // title
      ctx.save();
      ctx.font = '35px ' + sans;
      ctx.letterSpacing = '1px';
      ctx.textAlign = 'center';
      ctx.textBaseline = 'middle';
      ctx.fillText(p.title, p.titleAt[0], p.titleAt[1]);
      ctx.restore();

      // F_nu (Jy)
      if (p.fnu) {
        ctx.save();
        ctx.translate(p.fnu[0], p.fnu[1]);
        ctx.rotate(-Math.PI / 2);
        ctx.textAlign = 'left';
        ctx.textBaseline = 'middle';
        ctx.font = '28px ' + sans;
        const wF = ctx.measureText('F').width;
        const wJ = ctx.measureText('  (Jy)').width;
        ctx.font = '21px ' + sans;
        const wn = ctx.measureText('\u03bd').width;
        let x0 = -(wF + wn + wJ) / 2;
        ctx.font = '28px ' + sans;
        ctx.fillText('F', x0, 0);
        ctx.font = '21px ' + sans;
        ctx.fillText('\u03bd', x0 + wF, 9);
        ctx.font = '28px ' + sans;
        ctx.fillText('  (Jy)', x0 + wF + wn, 0);
        ctx.restore();
      }

      // wavelength label on the lower row
      if (p.xLabelAt) {
        ctx.font = '28px ' + sans;
        ctx.textAlign = 'center';
        ctx.textBaseline = 'middle';
        ctx.fillText('wavelength (\u03bcm)', p.xLabelAt[0], p.xLabelAt[1]);
      }
      ctx.restore();
    }
  };
}

panelLayout.forEach(p => {
  new Chart(document.getElementById(p.canvas), {
    type: 'scatter',
    data: {
      datasets: [{
        data: p.points.map(d => ({ x: d[0], y: d[1] })),
        pointStyle: 'circle',
        pointRadius: 3.7,
        borderWidth: 1,
        borderColor: 'rgba(25,25,25,0.85)',
        backgroundColor: 'rgba(0,0,0,0)'
      }]
    },
    options: {
      responsive: false,
      animation: false,
      devicePixelRatio: 1,
      events: [],
      layout: {
        padding: { left: p.box.left, right: 1914 - p.box.right, top: p.box.top, bottom: 980 - p.box.bottom }
      },
      plugins: { legend: { display: false }, tooltip: { enabled: false } },
      scales: {
        x: { type: 'linear', min: p.x[0], max: p.x[1], display: false },
        y: { type: 'logarithmic', min: p.y[0], max: p.y[1], display: false }
      }
    },
    plugins: [makeFrame(p)]
  });
});

// annotations: labels, boxes and block arrows
const svg = document.getElementById('notes');
const NS = 'http://www.w3.org/2000/svg';
function add(tag, attrs, text) {
  const el = document.createElementNS(NS, tag);
  for (const k in attrs) el.setAttribute(k, attrs[k]);
  if (text) el.textContent = text;
  svg.appendChild(el);
  return el;
}
function arrow(tx, ty, deg, len, headLen, headW, shaftW, fill) {
  const r = deg * Math.PI / 180, dx = Math.cos(r), dy = Math.sin(r), nx = -dy, ny = dx;
  const bx = tx - dx * headLen, by = ty - dy * headLen, ex = tx - dx * len, ey = ty - dy * len;
  const pts = [
    [tx, ty],
    [bx + nx * headW / 2, by + ny * headW / 2],
    [bx + nx * shaftW / 2, by + ny * shaftW / 2],
    [ex + nx * shaftW / 2, ey + ny * shaftW / 2],
    [ex - nx * shaftW / 2, ey - ny * shaftW / 2],
    [bx - nx * shaftW / 2, by - ny * shaftW / 2],
    [bx - nx * headW / 2, by - ny * headW / 2]
  ];
  add('polygon', { points: pts.map(q => q[0].toFixed(1) + ',' + q[1].toFixed(1)).join(' '), fill: fill });
}

const pink = '#ff99cc', gold = '#ffcc00', magenta = '#ff00ff', orange = '#ff9900', red = '#ff0000';
const labelBoxes = [
  { fill: pink, x: 326, y: 305, w: 206, h: 97, tx: 345, text: '9.7um' },
  { fill: gold, x: 1098, y: 159, w: 191, h: 96, tx: 1119, text: '18um' },
  { fill: pink, x: 939, y: 321, w: 208, h: 96, tx: 960, text: '9.7um' },
  { fill: gold, x: 1732, y: 190, w: 200, h: 97, tx: 1754, text: '18um' },
  { fill: pink, x: 1591, y: 326, w: 207, h: 97, tx: 1611, text: '9.7um' },
  { fill: pink, x: 321, y: 765, w: 207, h: 97, tx: 340, text: '9.7um' },
  { fill: gold, x: 1112, y: 644, w: 188, h: 97, tx: 1133, text: '18um' },
  { fill: pink, x: 926, y: 795, w: 207, h: 97, tx: 946, text: '9.7um' },
  { fill: gold, x: 1732, y: 638, w: 200, h: 96, tx: 1754, text: '18um' },
  { fill: pink, x: 1591, y: 795, w: 207, h: 97, tx: 1611, text: '9.7um' }
];
labelBoxes.forEach(b => {
  add('rect', { x: b.x, y: b.y, width: b.w, height: b.h, fill: b.fill });
  add('text', { x: b.tx, y: (b.y + 0.74 * b.h).toFixed(1), 'font-family': '"Liberation Serif", "Times New Roman", serif',
    'font-weight': 'bold', 'font-size': 64, fill: '#000' }, b.text);
});

// diagonal arrows point up-left, flat heads
[[248.5, 286.5, magenta], [249, 786, magenta], [854, 816, magenta],
 [1023, 181, orange], [1659, 208, orange], [1037, 664, orange], [1655, 663, orange]]
  .forEach(a => arrow(a[0], a[1], -151, 72, 18.5, 71, 35, a[2]));
[[854, 377], [1501, 377], [1504, 850]].forEach(a => arrow(a[0], a[1], 180, 71.5, 16.5, 70, 36, magenta));
arrow(1500.5, 227, 90, 82, 20, 30, 15, red);
arrow(1501, 718, 90, 105, 21, 30, 15, red);

[[143, 148], [1430, 137], [143, 617], [1430, 606]].forEach(t => {
  add('text', { x: t[0], y: t[1], 'font-family': '"Liberation Serif", "Times New Roman", serif', 'font-weight': 'bold',
    'font-size': 75, fill: red, filter: 'url(#shadow)' }, 'PAH');
});
</script>
</body>
</html>
